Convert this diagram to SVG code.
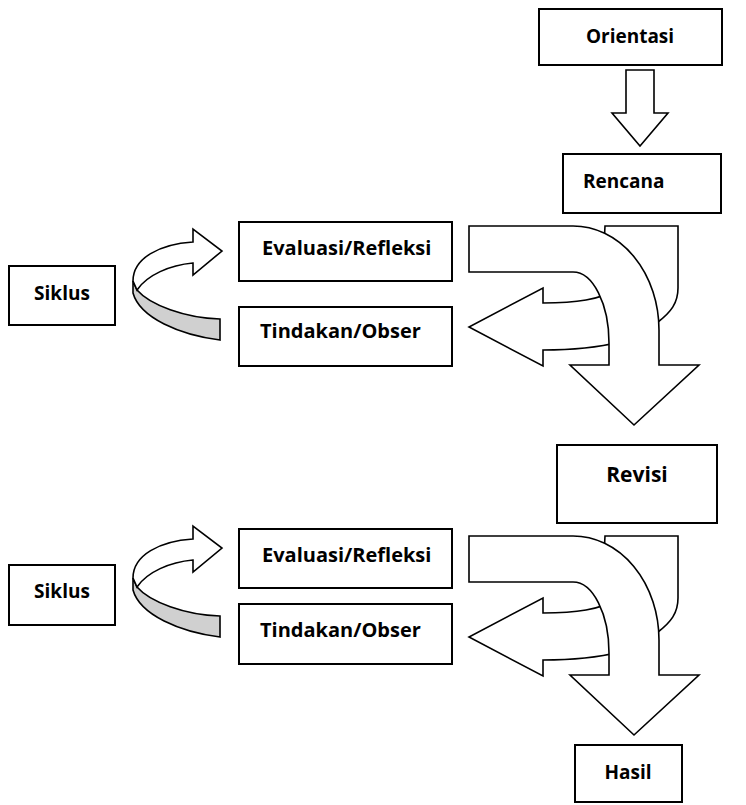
<svg xmlns="http://www.w3.org/2000/svg" width="746" height="805" viewBox="0 0 746 805">
<style>
.box{fill:#fff;stroke:#000;stroke-width:2}
.lbl{font-family:"Open Sans","Liberation Sans",sans-serif;font-weight:bold;font-size:19px;fill:#000}
.wide{font-size:20px}
.blk{fill:#fff;stroke:#000;stroke-width:1.6;stroke-linejoin:miter}
.band{fill:#d0d0d0;stroke:#000;stroke-width:1.6}
</style>
<defs>
<g id="bent">
<path class="blk" d="M605,226 H678 V288 C678,303 671,312 658,322 L600,322 Z"/>
<path class="blk" d="M620,288 C600,300 575,303 543,303 V288 L469,327 L543,366 V350 C575,350 600,347 620,342 Z"/>
<path class="blk" d="M469,226 H573 A86,104 0 0 1 659,330 V365 H699 L634,425 L570,365 H609 V343 A36,71 0 0 0 573,272 H469 Z"/>
</g>
<g id="circ">
<path class="band" d="M133,281 L133,293 C140,318 180,335 220,340 L220,319 C185,318 150,305 137,290 Z"/>
<path class="blk" d="M133,281 C133,258 160,244 193,242 L193,229 L222,251 L193,275 L193,263 C170,265 147,275 137,290 Z"/>
</g>
</defs>
<g id="connectors">
<path class="blk" d="M626,70 H654 V113 H668 L640,146 L612,113 H626 Z"/>
<use href="#circ"/>
<use href="#bent"/>
<use href="#circ" transform="translate(0,297)"/>
<use href="#bent" transform="translate(0,310)"/>
</g>
<g id="orientasi"><rect class="box" x="539" y="9" width="183" height="56"/><text class="lbl" x="630" y="43" text-anchor="middle">Orientasi</text></g>
<g id="rencana"><rect class="box" x="563" y="154" width="158" height="59"/><text class="lbl" x="583" y="188">Rencana</text></g>
<g id="siklus1"><rect class="box" x="9" y="266" width="106" height="59"/><text class="lbl" x="62" y="300" text-anchor="middle">Siklus</text></g>
<g id="evaluasi1"><rect class="box" x="239" y="222" width="213" height="59"/><text class="lbl wide" x="262" y="255">Evaluasi/Refleksi</text></g>
<g id="tindakan1"><rect class="box" x="239" y="307" width="213" height="59"/><text class="lbl wide" x="260" y="338">Tindakan/Obser</text></g>
<g id="revisi"><rect class="box" x="557" y="445" width="160" height="78"/><text class="lbl" x="637" y="482" text-anchor="middle" style="font-size:21px">Revisi</text></g>
<g id="siklus2"><rect class="box" x="9" y="565" width="106" height="60"/><text class="lbl" x="62" y="598" text-anchor="middle">Siklus</text></g>
<g id="evaluasi2"><rect class="box" x="239" y="529" width="213" height="59"/><text class="lbl wide" x="262" y="562">Evaluasi/Refleksi</text></g>
<g id="tindakan2"><rect class="box" x="239" y="604" width="213" height="60"/><text class="lbl wide" x="260" y="637">Tindakan/Obser</text></g>
<g id="hasil"><rect class="box" x="575" y="745" width="107" height="57"/><text class="lbl" x="628" y="779" text-anchor="middle">Hasil</text></g>
</svg>
